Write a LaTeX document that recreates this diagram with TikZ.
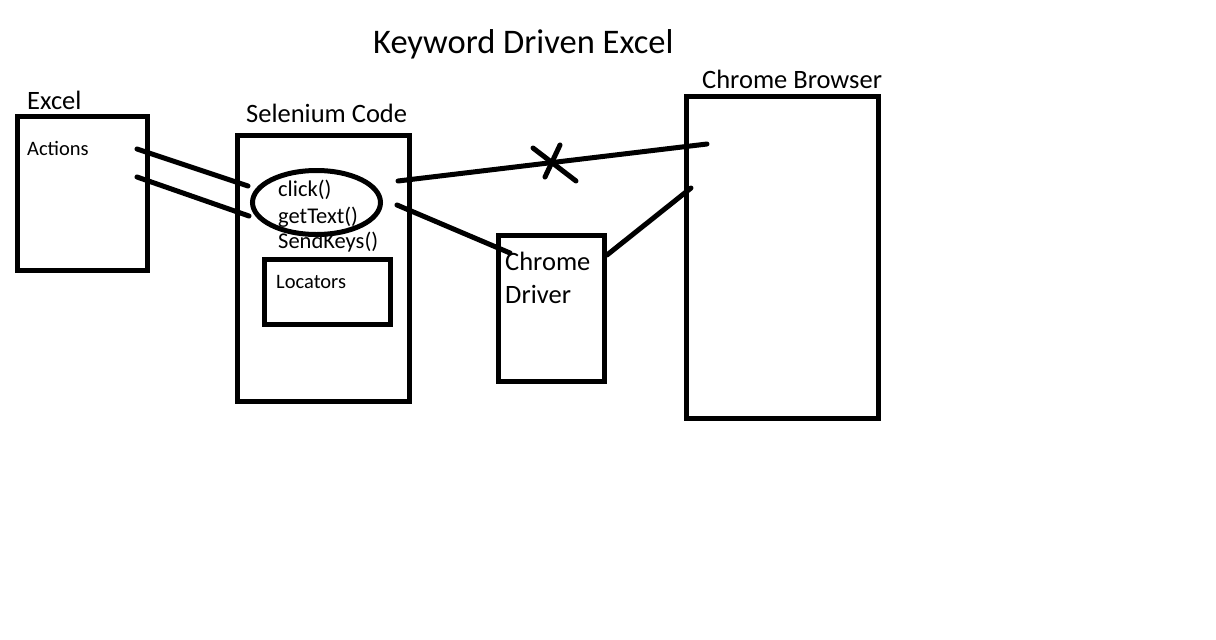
\documentclass[tikz,border=0pt]{standalone}
\usepackage{fontspec}
\setmainfont{Carlito}
\usetikzlibrary{shapes.geometric,positioning}

\begin{document}
\begin{tikzpicture}[
    x=1pt, y=-1pt,
    box/.style={
        rectangle,
        anchor=north west,
        inner sep=0pt,
        outer sep=0pt,
        draw,
        line width=5pt
    },
    heading/.style={anchor=base west, inner sep=0pt, font=\fontsize{26.5}{30}\selectfont},
    smalltext/.style={anchor=base west, inner sep=0pt, font=\fontsize{20.5}{24}\selectfont},
    codetext/.style={anchor=base west, inner sep=0pt, font=\fontsize{22.5}{26}\selectfont},
    wire/.style={line width=5pt, line cap=round}
]
    \useasboundingbox (0,0) rectangle (1216,640);

    % Title
    \node[anchor=base west, inner sep=0pt, font=\fontsize{34.5}{40}\selectfont] (title) at (373,53) {Keyword Driven Excel};

    % Boxes
    \node[box, minimum width=130pt, minimum height=153.5pt] (excel) at (17.5,116.5) {};
    \node[box, minimum width=172pt, minimum height=265.5pt] (selenium) at (237.5,135.5) {};
    \node[box, minimum width=126pt, minimum height=65pt] (locators) at (264.5,259.5) {};
    \node[box, minimum width=106.5pt, minimum height=146pt] (driver) at (498,235) {};
    \node[box, minimum width=191.5pt, minimum height=322pt] (browser) at (686.5,96.5) {};

    % Labels
    \node[heading] (excellabel) at (27,109) {Excel};
    \node[heading] (seleniumlabel) at (246,122) {Selenium Code};
    \node[heading] (browserlabel) at (702,88) {Chrome Browser};
    \node[heading] (driverlabel1) at (505,270) {Chrome};
    \node[heading] (driverlabel2) at (505,303) {Driver};
    \node[smalltext] (actions) at (27,155) {Actions};
    \node[codetext] (click) at (278,196) {click()};
    \node[codetext] (gettext) at (278,223) {getText()};
    \node[codetext] (sendkeys) at (278,248) {SendKeys()};
    \node[smalltext] (locatorslabel) at (276,288) {Locators};

    % Keyword ellipse
    \node[ellipse, draw, line width=5pt, inner sep=0pt, outer sep=0pt, minimum width=128pt, minimum height=64pt] (keywords) at (316.5,202.5) {};

    % Line ends
    \coordinate (a1) at (137,149);
    \coordinate (a2) at (137,177);
    \coordinate (k1) at (248,186);
    \coordinate (k2) at (249,216);
    \coordinate (k3) at (398,181);
    \coordinate (k4) at (397,205);
    \coordinate (b1) at (707,144);
    \coordinate (b2) at (691,188);
    \coordinate (d1) at (510,253);
    \coordinate (d2) at (607,255);
    \coordinate (x1) at (533,148);
    \coordinate (x2) at (576,181);
    \coordinate (x3) at (560,145);
    \coordinate (x4) at (545,177);

    % Connectors
    \draw[wire] (a1) -- (k1);
    \draw[wire] (a2) -- (k2);
    \draw[wire] (k3) -- (b1);
    \draw[wire] (k4) -- (d1);
    \draw[wire] (d2) -- (b2);

    % Cross
    \draw[wire] (x1) -- (x2);
    \draw[wire] (x3) -- (x4);
\end{tikzpicture}
\end{document}
